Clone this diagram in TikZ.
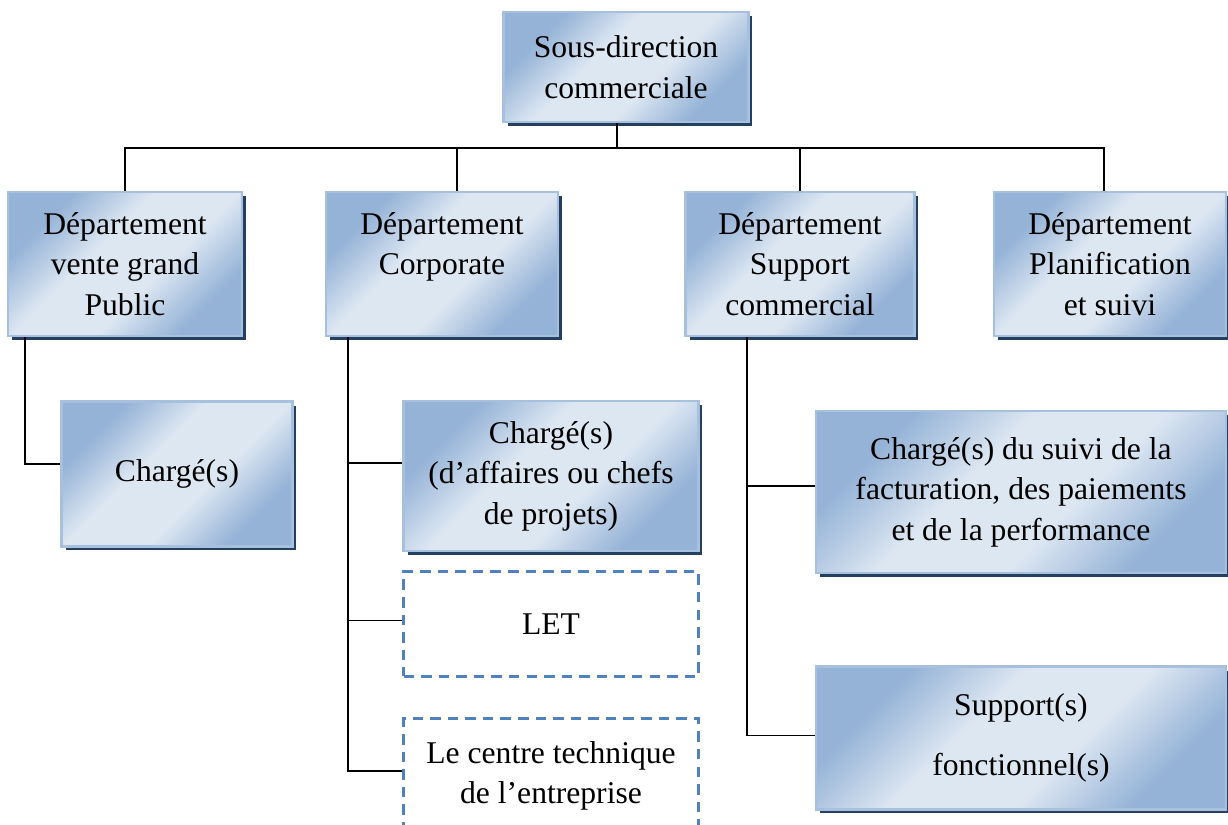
\documentclass[tikz,border=0pt]{standalone}
\usepackage{fontspec}
\setmainfont{Liberation Serif}
\usetikzlibrary{shadows}

\definecolor{boxdark}{HTML}{95B3D7}
\definecolor{boxlight}{HTML}{DDE7F2}
\definecolor{boxedge}{HTML}{A7C0DE}
\definecolor{boxshadow}{HTML}{243F60}
\definecolor{dashblue}{HTML}{4F81BD}

\pgfdeclarehorizontalshading{boxshade}{100bp}{color(0bp)=(boxdark); color(27bp)=(boxdark);
    color(42bp)=(boxlight); color(58bp)=(boxlight); color(73bp)=(boxdark); color(100bp)=(boxdark)}

\begin{document}
\begin{tikzpicture}[x=0.02cm, y=-0.02cm,
    unit/.style={rectangle, inner sep=0pt, align=center, draw=boxedge, line width=1.2pt,
        shading=boxshade, shading angle=-45,
        drop shadow={shadow xshift=0.08cm, shadow yshift=-0.08cm, fill=boxshadow, opacity=1},
        font=\fontsize{18}{23}\selectfont},
    cell/.style={rectangle, inner sep=0pt, align=center, draw=dashblue, line width=1.6pt,
        dash pattern=on 6pt off 4pt, font=\fontsize{18}{23}\selectfont},
    link/.style={draw=black, line width=1.1pt}]
    \useasboundingbox (0, 0) rectangle (1228, 825);
    \clip (0, 0) rectangle (1228, 825);

    \node[unit, minimum width=4.9cm, minimum height=2.2cm] (sd) at (626, 67) {Sous-direction\\commerciale};

    \node[unit, minimum width=4.68cm, minimum height=2.88cm] (dep-1) at (125, 264) {Département\\vente grand\\Public};
    \node[unit, minimum width=4.64cm, minimum height=2.88cm] (dep-2) at (442, 264) {Département\\Corporate\\\mbox{}};
    \node[unit, minimum width=4.58cm, minimum height=2.88cm] (dep-3) at (800, 264) {Département\\Support\\commercial};
    \node[unit, minimum width=4.64cm, minimum height=2.88cm] (dep-4) at (1110, 264) {Département\\Planification\\et suivi};

    \coordinate (bus) at (617, 148);
    \draw[link] ([xshift=-0.18cm]sd.south) -- (bus);
    \draw[link] (dep-1.north) |- (bus);
    \draw[link] ([xshift=-0.12cm]dep-4.north) |- (bus);
    \draw[link] ([xshift=0.3cm]dep-2.north) |- (bus);
    \draw[link] (dep-3.north) |- (bus);

    \node[unit, minimum width=4.62cm, minimum height=2.9cm] (ch-1) at (177, 474) {Chargé(s)};
    \draw[link] ([xshift=-2cm]dep-1.south) |- ([yshift=0.2cm]ch-1.west);

    \node[unit, minimum width=5.9cm, minimum height=3cm] (ch-2) at (551, 476) {Chargé(s)\\(d’affaires ou chefs\\de projets)};
    \node[cell, minimum width=5.9cm, minimum height=2.1cm] (let) at (551, 624) {LET};
    \node[cell, minimum width=5.9cm, minimum height=2.3cm] (ct) at (551, 776) {Le centre technique\\de l’entreprise};

    \coordinate (trunk-2) at ([xshift=0.46cm]dep-2.south west);
    \draw[link] (trunk-2) |- ([yshift=0.26cm]ch-2.west);
    \draw[link] (trunk-2) |- ([yshift=0.07cm]let.west);
    \draw[link] (trunk-2) |- ([yshift=0.1cm]ct.west);

    \node[unit, minimum width=8.2cm, minimum height=3.24cm] (ch-3) at (1021, 492) {Chargé(s) du suivi de la\\facturation, des paiements\\et de la performance};
    \node[unit, minimum width=8.2cm, minimum height=2.86cm] (sup) at (1021, 738) {Support(s)\\[11pt]fonctionnel(s)};

    \coordinate (trunk-3) at ([xshift=1.26cm]dep-3.south west);
    \draw[link] (trunk-3) |- ([yshift=0.12cm]ch-3.west);
    \draw[link] (trunk-3) |- ([yshift=0.05cm]sup.west);
\end{tikzpicture}
\end{document}
